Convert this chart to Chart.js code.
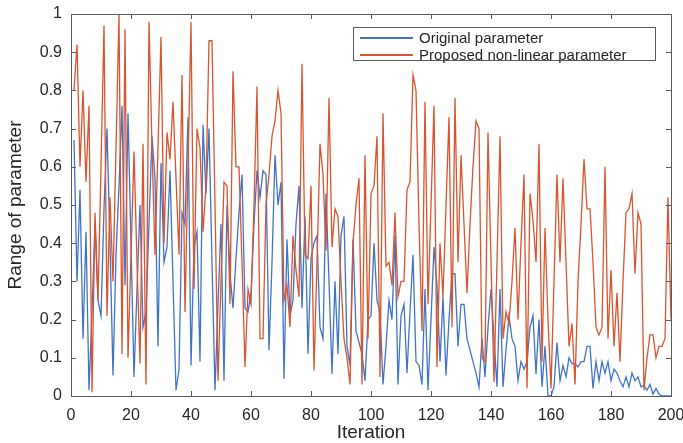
<!DOCTYPE html>
<html>
<head>
<meta charset="utf-8">
<script src="https://cdn.jsdelivr.net/npm/chart.js@4.4.1/dist/chart.umd.min.js"></script>
<style>
  body { margin: 0; background: #fff; }
  #wrap { position: relative; width: 683px; height: 443px; }
  #legend {
    position: absolute; left: 353px; top: 27px; width: 301px; height: 32px;
    border: 1px solid #5a5a5a; background: #fff;
    font-family: "Liberation Sans", Arial, sans-serif; font-size: 15px; color: #262626;
  }
  .swatch { position: absolute; left: 6px; width: 53px; height: 1.5px; }
  .label { position: absolute; left: 65px; height: 18px; line-height: 18px; white-space: nowrap; }
</style>
</head>
<body>
<div id="wrap">
  <canvas id="chart" width="683" height="443"></canvas>
  <div id="legend"></div>
</div>
<script>
// values, iteration 1..200
var original = [
  0.67,0.30,0.54,0.15,0.43,0.015,0.22,0.45,0.25,0.21,
  0.49,0.70,0.40,0.054,0.37,0.55,0.76,0.29,0.74,0.40,
  0.05,0.28,0.50,0.18,0.22,0.45,0.68,0.57,0.13,0.61,
  0.35,0.39,0.59,0.30,0.015,0.07,0.48,0.45,0.73,0.08,
  0.39,0.43,0.09,0.71,0.53,0.70,0.35,0.015,0.24,0.45,
  0.04,0.50,0.32,0.23,0.36,0.48,0.58,0.23,0.22,0.27,
  0.45,0.59,0.52,0.59,0.58,0.12,0.35,0.63,0.50,0.56,
  0.045,0.41,0.21,0.25,0.45,0.55,0.23,0.47,0.11,0.36,
  0.40,0.42,0.18,0.15,0.53,0.30,0.058,0.30,0.11,0.42,
  0.47,0.13,0.08,0.41,0.17,0.14,0.11,0.04,0.20,0.21,
  0.40,0.25,0.22,0.03,0.13,0.25,0.20,0.42,0.03,0.21,
  0.24,0.06,0.22,0.37,0.09,0.08,0.03,0.28,0.015,0.20,
  0.39,0.29,0.09,0.26,0.054,0.20,0.32,0.32,0.13,0.24,
  0.24,0.15,0.12,0.09,0.06,0.024,0.15,0.05,0.18,0.28,
  0.15,0.024,0.28,0.024,0.12,0.21,0.15,0.13,0.04,0.09,
  0.07,0.09,0.18,0.21,0.058,0.20,0.024,0.13,0.00,0.00,
  0.024,0.14,0.04,0.08,0.05,0.10,0.085,0.085,0.076,0.09,
  0.09,0.13,0.13,0.02,0.09,0.04,0.09,0.06,0.09,0.04,
  0.07,0.06,0.04,0.024,0.05,0.024,0.06,0.04,0.05,0.024,
  0.028,0.015,0.03,0.005,0.02,0.005,0,0,0,0
];
var proposed = [
  0.80,0.92,0.60,0.80,0.56,0.76,0.01,0.48,0.25,0.60,
  0.97,0.21,0.52,0.30,0.65,1.00,0.11,0.96,0.10,0.37,
  0.64,0.35,0.085,0.66,0.03,0.98,0.65,0.37,0.65,0.94,
  0.40,0.69,0.62,0.77,0.57,0.37,0.84,0.22,0.60,0.98,
  0.28,0.70,0.65,0.43,0.55,0.93,0.93,0.50,0.04,0.30,
  0.56,0.55,0.24,0.85,0.60,0.60,0.35,0.076,0.28,0.24,
  0.50,0.81,0.15,0.15,0.50,0.58,0.68,0.72,0.80,0.74,
  0.25,0.29,0.18,0.42,0.33,0.26,0.87,0.37,0.36,0.55,
  0.067,0.35,0.66,0.58,0.38,0.78,0.39,0.49,0.47,0.30,
  0.15,0.10,0.03,0.40,0.50,0.57,0.03,0.63,0.15,0.53,
  0.55,0.68,0.05,0.74,0.34,0.35,0.29,0.48,0.26,0.30,
  0.30,0.54,0.56,0.84,0.80,0.45,0.17,0.77,0.24,0.50,
  0.76,0.076,0.40,0.26,0.50,0.73,0.18,0.78,0.35,0.63,
  0.45,0.27,0.45,0.60,0.72,0.70,0.10,0.09,0.69,0.35,
  0.037,0.35,0.68,0.15,0.22,0.19,0.30,0.44,0.20,0.40,
  0.58,0.02,0.53,0.46,0.35,0.66,0.09,0.44,0.20,0.02,
  0.30,0.58,0.35,0.57,0.35,0.13,0.19,0.03,0.30,0.45,
  0.62,0.49,0.49,0.35,0.18,0.16,0.18,0.60,0.15,0.33,
  0.13,0.27,0.09,0.30,0.48,0.49,0.53,0.32,0.48,0.45,
  0.015,0.10,0.16,0.16,0.10,0.13,0.13,0.15,0.52,0.20
];
var seriesNames = ["Original parameter", "Proposed non-linear parameter"];
var seriesColors = ["#3f74c9", "#d9542f"];
var xTicks = [0, 20, 40, 60, 80, 100, 120, 140, 160, 180, 200];
var yTicks = [0, 0.1, 0.2, 0.3, 0.4, 0.5, 0.6, 0.7, 0.8, 0.9, 1];

var FONT = "'Liberation Sans', Arial, sans-serif";
var TEXT = "#262626";

function toPoints(arr) {
  return arr.map(function(v, i) { return {x: i + 1, y: v}; });
}

// MATLAB style box with ticks pointing inward
var boxPlugin = {
  id: 'box',
  afterDraw: function(chart) {
    var ctx = chart.ctx, a = chart.chartArea;
    var xs = chart.scales.x, ys = chart.scales.y;
    var len = 5;
    ctx.save();
    ctx.strokeStyle = "#5a5a5a";
    ctx.lineWidth = 1;
    ctx.strokeRect(a.left + 0.5, a.top + 0.5, a.right - a.left, a.bottom - a.top);
    ctx.beginPath();
    xTicks.forEach(function(t) {
      var px = Math.round(xs.getPixelForValue(t)) + 0.5;
      ctx.moveTo(px, a.bottom); ctx.lineTo(px, a.bottom - len);
      ctx.moveTo(px, a.top); ctx.lineTo(px, a.top + len);
    });
    yTicks.forEach(function(t) {
      var py = Math.round(ys.getPixelForValue(t)) + 0.5;
      ctx.moveTo(a.left, py); ctx.lineTo(a.left + len, py);
      ctx.moveTo(a.right, py); ctx.lineTo(a.right - len, py);
    });
    ctx.stroke();
    ctx.restore();
  }
};

var ctx = document.getElementById("chart").getContext('2d');
var chart = new Chart(ctx, {
  type: 'line',
  data: {
    datasets: [
      // red is plotted after blue in the original, so it sits on top
      { label: seriesNames[0], data: toPoints(original), borderColor: seriesColors[0], borderWidth: 1.3, pointRadius: 0, tension: 0, fill: false, order: 2 },
      { label: seriesNames[1], data: toPoints(proposed), borderColor: seriesColors[1], borderWidth: 1.3, pointRadius: 0, tension: 0, fill: false, order: 1 }
    ]
  },
  options: {
    responsive: false,
    animation: false,
    layout: { padding: { left: 0, top: 14, right: 12, bottom: 0 } },
    plugins: { legend: { display: false }, tooltip: { enabled: false } },
    scales: {
      x: {
        type: 'linear', min: 0, max: 200,
        afterBuildTicks: function(s) { s.ticks = xTicks.map(function(v) { return {value: v}; }); },
        afterFit: function(s) { s.height = 47; s.paddingLeft = 0; s.paddingRight = 0; },
        grid: { display: false, drawTicks: false },
        border: { display: false },
        ticks: { padding: 10, maxRotation: 0, autoSkip: false, color: TEXT, font: { family: FONT, size: 16 } },
        title: { display: true, text: 'Iteration', color: TEXT, padding: { top: 0, bottom: -1 }, font: { family: FONT, size: 19 } }
      },
      y: {
        min: 0, max: 1,
        afterBuildTicks: function(s) { s.ticks = yTicks.map(function(v) { return {value: v}; }); },
        afterFit: function(s) { s.width = 71; s.paddingTop = 0; s.paddingBottom = 0; },
        grid: { display: false, drawTicks: false },
        border: { display: false },
        ticks: { padding: 9, autoSkip: false, color: TEXT, font: { family: FONT, size: 16 },
          callback: function(v) { return String(Math.round(v * 10) / 10); } },
        title: { display: true, text: 'Range of parameter', color: TEXT, padding: { top: 4, bottom: 0 }, font: { family: FONT, size: 19 } }
      }
    }
  },
  plugins: [boxPlugin]
});

// legend box inside the plot, top right
var legend = document.getElementById("legend");
var rowCenters = [10, 27];
seriesNames.forEach(function(name, i) {
  var sw = document.createElement("div");
  sw.className = "swatch";
  sw.style.top = (rowCenters[i] - 1) + "px";
  sw.style.backgroundColor = seriesColors[i];
  legend.appendChild(sw);
  var lb = document.createElement("div");
  lb.className = "label";
  lb.style.top = (rowCenters[i] - 9) + "px";
  lb.textContent = name;
  legend.appendChild(lb);
});
</script>
</body>
</html>
